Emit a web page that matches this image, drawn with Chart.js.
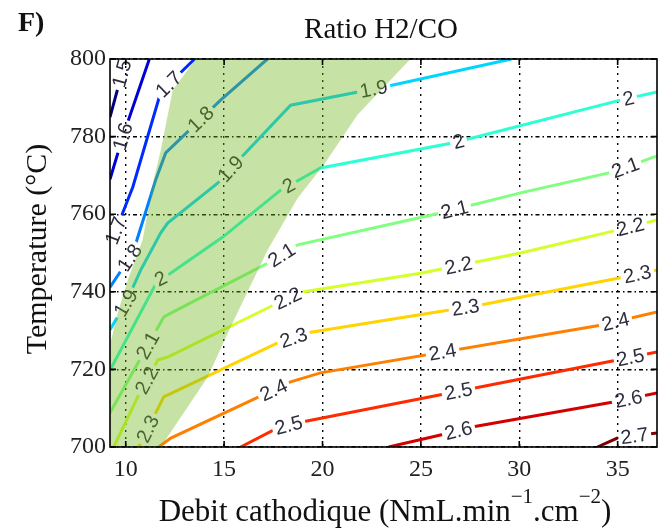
<!DOCTYPE html>
<html>
<head>
<meta charset="utf-8">
<script src="https://cdn.jsdelivr.net/npm/chart.js@4.4.1/dist/chart.umd.min.js"></script>
<style>
  html, body { margin: 0; padding: 0; background: #fff; }
</style>
</head>
<body>
<canvas id="chart" width="664" height="531"></canvas>
<script>
// contour levels of the H2/CO ratio
const levels = [1.5, 1.6, 1.7, 1.8, 1.9, 2.0, 2.1, 2.2, 2.3, 2.4, 2.5, 2.6, 2.7];
const levelColors = [
    "rgb(0, 0, 128)", "rgb(0, 0, 212)", "rgb(0, 43, 255)", "rgb(0, 128, 255)",
    "rgb(0, 212, 255)", "rgb(43, 255, 212)", "rgb(128, 255, 128)", "rgb(212, 255, 43)",
    "rgb(255, 212, 0)", "rgb(255, 128, 0)", "rgb(255, 43, 0)", "rgb(212, 0, 0)", "rgb(128, 0, 0)"
];

// debit cathodique (x) for each contour line
const contourX = [
    [9.2, 10.0],
    [9.2, 9.85, 11.2],
    [9.2, 10.36, 11.78, 13.5],
    [9.2, 10.36, 11.52, 12.03, 14.82, 17.2],
    [9.2, 10.0, 10.76, 11.78, 12.13, 14.67, 15.84, 18.38, 23.3, 29.6],
    [9.2, 11.63, 12.13, 14.93, 17.87, 19.9, 26.66, 35.14, 37.0],
    [9.2, 11.93, 12.29, 17.52, 18.74, 26.0, 30.06, 34.78, 37.0],
    [9.39, 10.61, 11.63, 12.13, 17.52, 18.89, 24.98, 30.06, 34.99, 37.0],
    [10.66, 11.93, 17.72, 19.4, 28.03, 35.14, 37.0],
    [11.68, 12.29, 17.52, 18.38, 19.9, 34.12, 37.0],
    [15.84, 17.72, 18.89, 34.99, 37.0],
    [23.36, 26.0, 27.67, 34.78, 37.0],
    [33.97, 34.99, 37.0]
];
// temperature (y) for each contour line
const contourY = [
    [785, 800],
    [769, 780, 800],
    [752, 767, 791.5, 800],
    [741.2, 750, 768.8, 775.8, 789.4, 800],
    [730.2, 737.1, 745.6, 755.2, 757.7, 768, 774.5, 788.1, 793, 800],
    [719.8, 743, 744.3, 754.1, 766.2, 771.9, 778.4, 789.4, 791.5],
    [708.8, 733.5, 734.5, 748.2, 752.1, 760.3, 765.5, 770.9, 775],
    [700, 712.9, 722.4, 723.2, 736.6, 739.9, 744.8, 750, 755.9, 758.5],
    [700, 712.9, 726.8, 729.6, 736.6, 743.6, 745.6],
    [700, 702.3, 714.7, 716.8, 719.1, 731.4, 734.8],
    [700, 704.9, 706.4, 722.4, 724.5],
    [700, 703.1, 705.2, 711.6, 713.9],
    [700, 702.3, 703.6]
];

// inline contour labels: level and x position along the line
const labelLevel = [1.5, 1.6, 1.7, 1.7, 1.8, 1.8, 1.9, 1.9, 1.9,
    2.0, 2.0, 2.0, 2.0, 2.1, 2.1, 2.1, 2.1, 2.2, 2.2, 2.2, 2.2,
    2.3, 2.3, 2.3, 2.3, 2.4, 2.4, 2.4, 2.5, 2.5, 2.5, 2.6, 2.6, 2.7];
const labelX = [9.8, 9.85, 12.18, 9.49, 13.81, 10.2, 22.6, 15.33, 10.0,
    11.78, 18.28, 26.91, 35.55, 11.12, 17.92, 26.71, 35.39, 11.07, 18.23, 26.91, 35.65,
    11.12, 18.53, 27.27, 36.0, 17.52, 26.1, 34.89, 18.28, 26.91, 35.65, 26.91, 35.55, 35.85];

// shaded operating zone
const greenX = [13.56, 12.39, 11.78, 11.42, 10.86, 10.1, 9.59, 9.2, 9.2,
    11.78, 14.16, 15.33, 17.21, 18.74, 20.06, 21.78, 24.47];
const greenY = [800, 792, 776.5, 768.8, 753.4, 743, 734.5, 726.3, 700,
    700, 718, 730.9, 750.8, 764.2, 772.7, 785.6, 800];

const xTicks = [10, 15, 20, 25, 30, 35];
const yTicks = [700, 720, 740, 760, 780, 800];

const labelFont = "20px 'Liberation Sans', Arial, sans-serif";
const serif = "'Liberation Serif', 'Times New Roman', serif";

function labelText(l) {
    return Number.isInteger(l) ? String(l) : l.toFixed(1);
}

function labelGeom(chart, k) {
    const i = levels.indexOf(labelLevel[k]);
    const xs = contourX[i], ys = contourY[i];
    const lx = labelX[k];
    let j = 0;
    while (j < xs.length - 2 && xs[j + 1] < lx) j++;
    const t = (lx - xs[j]) / (xs[j + 1] - xs[j]);
    const ly = ys[j] + t * (ys[j + 1] - ys[j]);
    const sx = chart.scales.x, sy = chart.scales.y;
    const x0 = sx.getPixelForValue(xs[j]), y0 = sy.getPixelForValue(ys[j]);
    const x1 = sx.getPixelForValue(xs[j + 1]), y1 = sy.getPixelForValue(ys[j + 1]);
    return { x: sx.getPixelForValue(lx), y: sy.getPixelForValue(ly), a: Math.atan2(y1 - y0, x1 - x0) };
}

const decor = {
    id: "decor",
    beforeDatasetDraw(chart, args) {
        // break each line where its labels sit
        const ctx = chart.ctx, a = chart.chartArea;
        const lv = levels[args.index];
        const p = new Path2D();
        p.rect(a.left - 5, a.top - 5, a.right - a.left + 10, a.bottom - a.top + 10);
        ctx.font = labelFont;
        labelLevel.forEach((l, k) => {
            if (l !== lv) return;
            const g = labelGeom(chart, k);
            const hw = ctx.measureText(labelText(l)).width / 2 + 3, hh = 8;
            const c = Math.cos(g.a), s = Math.sin(g.a);
            const pts = [[-hw, -hh], [hw, -hh], [hw, hh], [-hw, hh]]
                .map(([u, v]) => [g.x + u * c - v * s, g.y + u * s + v * c]);
            p.moveTo(pts[0][0], pts[0][1]);
            for (let q = 1; q < 4; q++) p.lineTo(pts[q][0], pts[q][1]);
            p.closePath();
        });
        ctx.save();
        ctx.clip(p, "evenodd");
    },
    afterDatasetDraw(chart) {
        chart.ctx.restore();
    },
    afterDatasetsDraw(chart) {
        const ctx = chart.ctx, a = chart.chartArea;
        const sx = chart.scales.x, sy = chart.scales.y;

        // contour labels
        ctx.save();
        ctx.font = labelFont;
        ctx.fillStyle = "#2c2c3c";
        ctx.textAlign = "center";
        ctx.textBaseline = "middle";
        labelLevel.forEach((l, k) => {
            const g = labelGeom(chart, k);
            ctx.save();
            ctx.translate(g.x, g.y);
            ctx.rotate(g.a);
            ctx.fillText(labelText(l), 0, 1);
            ctx.restore();
        });
        ctx.restore();

        // green zone on top
        ctx.save();
        ctx.beginPath();
        ctx.rect(a.left, a.top, a.right - a.left, a.bottom - a.top);
        ctx.clip();
        ctx.beginPath();
        greenX.forEach((x, i) => {
            const px = sx.getPixelForValue(x), py = sy.getPixelForValue(greenY[i]);
            if (i === 0) ctx.moveTo(px, py); else ctx.lineTo(px, py);
        });
        ctx.closePath();
        ctx.fillStyle = "rgba(112, 182, 30, 0.4)";
        ctx.fill();
        ctx.restore();

        // box and inner ticks
        ctx.save();
        ctx.strokeStyle = "#000";
        ctx.lineWidth = 1.6;
        ctx.strokeRect(a.left, a.top, a.right - a.left, a.bottom - a.top);
        ctx.beginPath();
        xTicks.forEach(v => {
            const px = sx.getPixelForValue(v);
            ctx.moveTo(px, a.bottom); ctx.lineTo(px, a.bottom - 6);
            ctx.moveTo(px, a.top); ctx.lineTo(px, a.top + 6);
        });
        yTicks.forEach(v => {
            const py = sy.getPixelForValue(v);
            ctx.moveTo(a.left, py); ctx.lineTo(a.left + 6, py);
            ctx.moveTo(a.right, py); ctx.lineTo(a.right - 6, py);
        });
        ctx.stroke();
        ctx.restore();
    },
    afterDraw(chart) {
        const ctx = chart.ctx;
        ctx.save();
        ctx.fillStyle = "#111";
        ctx.textBaseline = "alphabetic";

        ctx.font = "bold 28px " + serif;
        ctx.textAlign = "left";
        ctx.fillText("F)", 18, 31);

        ctx.font = "29px " + serif;
        ctx.textAlign = "center";
        ctx.fillText("Ratio H2/CO", 381, 38);

        // y title
        ctx.save();
        ctx.translate(38, 249);
        ctx.rotate(-Math.PI / 2);
        ctx.font = "30px " + serif;
        ctx.textBaseline = "middle";
        ctx.fillText("Temperature (\u00b0C)", 0, 0);
        ctx.restore();

        // x title with superscripts
        const parts = [
            ["Debit cathodique (NmL.min", 0, "31px "],
            ["\u22121", -18, "21px "],
            [".cm", 0, "31px "],
            ["\u22122", -18, "21px "],
            [")", 0, "31px "]
        ];
        ctx.textAlign = "left";
        let w = 0;
        parts.forEach(p => { ctx.font = p[2] + serif; w += ctx.measureText(p[0]).width; });
        let x = 385 - w / 2;
        parts.forEach(p => {
            ctx.font = p[2] + serif;
            ctx.fillText(p[0], x, 521 + p[1]);
            x += ctx.measureText(p[0]).width;
        });
        ctx.restore();
    }
};

const datasets = levels.map((lv, i) => ({
    label: labelText(lv),
    data: contourX[i].map((x, j) => ({ x: x, y: contourY[i][j] })),
    showLine: true,
    borderColor: levelColors[i],
    backgroundColor: levelColors[i],
    borderWidth: 3,
    pointRadius: 0,
    tension: 0,
    fill: false
}));

new Chart(document.getElementById("chart"), {
    type: "scatter",
    data: { datasets },
    options: {
        responsive: false,
        animation: false,
        events: [],
        layout: { padding: { left: 0, right: 7, top: 59, bottom: 0 } },
        plugins: { legend: { display: false }, tooltip: { enabled: false } },
        scales: {
            x: {
                type: "linear",
                min: 9.2,
                max: 37,
                afterBuildTicks: s => { s.ticks = xTicks.map(v => ({ value: v })); },
                afterFit: s => { s.height = 84; },
                grid: { color: "#000", lineWidth: 1.4, drawTicks: false },
                border: { display: false, dash: [2, 5] },
                ticks: {
                    font: { family: serif, size: 24 },
                    color: "#222",
                    padding: 8,
                    maxRotation: 0,
                    autoSkip: false
                }
            },
            y: {
                type: "linear",
                min: 700,
                max: 800,
                afterBuildTicks: s => { s.ticks = yTicks.map(v => ({ value: v })); },
                afterFit: s => { s.width = 110; },
                grid: { color: "#000", lineWidth: 1.4, drawTicks: false },
                border: { display: false, dash: [4, 3, 1.5, 3] },
                ticks: {
                    font: { family: serif, size: 24 },
                    color: "#222",
                    padding: 4,
                    autoSkip: false
                }
            }
        }
    },
    plugins: [decor]
});
</script>
</body>
</html>
